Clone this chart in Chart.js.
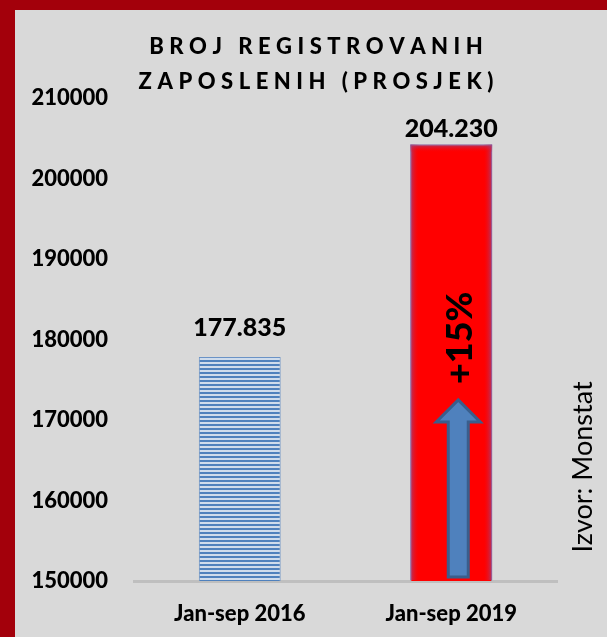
<!DOCTYPE html>
<html>
<head>
<meta charset="utf-8">
<script src="https://cdn.jsdelivr.net/npm/chart.js@4"></script>
<style>
  html, body { margin: 0; padding: 0; background: #D9D9D9; }
  canvas { display: block; }
</style>
</head>
<body>
<canvas id="grafico" width="607" height="637"></canvas>
<script>
var kategorije = ["Jan-sep 2016", "Jan-sep 2019"];
var zaposleni = [177835, 204230];
var etikete = ["177.835", "204.230"];
var naslov = ["BROJ REGISTROVANIH", "ZAPOSLENIH (PROSJEK)"];
var rast = "+15%";
var rastVrijednost = 180200; // gdje stoji natpis +15%
var strelica = [150000, 172500]; // strelica od - do
var izvor = "Izvor: Monstat";
var yMin = 150000, yMax = 210000, yKorak = 10000;

const ctx = document.getElementById("grafico").getContext("2d");

// horizontalne pruge za prvi stubac
function prugice() {
  var c = document.createElement("canvas");
  c.width = 4; c.height = 4;
  var g = c.getContext("2d");
  g.fillStyle = "#CFDCEC";
  g.fillRect(0, 0, 4, 4);
  g.fillStyle = "#4F81BD";
  g.fillRect(0, 0, 4, 2);
  return ctx.createPattern(c, "repeat");
}

function razmaknutTekst(c, tekst, cx, y, razmak) {
  var sirina = 0;
  for (var i = 0; i < tekst.length; i++) sirina += c.measureText(tekst[i]).width + razmak;
  sirina -= razmak;
  var x = cx - sirina / 2;
  c.textAlign = "left";
  for (var j = 0; j < tekst.length; j++) {
    c.fillText(tekst[j], x, y);
    x += c.measureText(tekst[j]).width + razmak;
  }
}

const dodaci = {
  id: "dodaci",
  beforeDraw(chart) {
    const c = chart.ctx;
    c.save();
    c.fillStyle = "#A3000B";
    c.fillRect(0, 0, chart.width, chart.height);
    c.fillStyle = "#D9D9D9";
    c.fillRect(15, 10, chart.width - 15, chart.height - 10);
    c.restore();
  },
  afterDatasetsDraw(chart) {
    const c = chart.ctx;
    const y = chart.scales.y;
    const stupci = chart.getDatasetMeta(0).data;
    c.save();

    // meke ivice crvenog stupca
    const b = stupci[1];
    const l = b.x - b.width / 2, r = b.x + b.width / 2;
    const dno = chart.chartArea.bottom - 1;
    const vis = dno - b.y;
    let g = c.createLinearGradient(l, 0, l + 9, 0);
    g.addColorStop(0, "rgba(140,80,150,0.75)");
    g.addColorStop(1, "rgba(255,0,0,0)");
    c.fillStyle = g;
    c.fillRect(l, b.y, 9, vis);
    g = c.createLinearGradient(r, 0, r - 9, 0);
    g.addColorStop(0, "rgba(140,80,150,0.75)");
    g.addColorStop(1, "rgba(255,0,0,0)");
    c.fillStyle = g;
    c.fillRect(r - 9, b.y, 9, vis);
    g = c.createLinearGradient(0, b.y, 0, b.y + 8);
    g.addColorStop(0, "rgba(140,80,150,0.7)");
    g.addColorStop(1, "rgba(255,0,0,0)");
    c.fillStyle = g;
    c.fillRect(l, b.y, b.width, 8);

    // strelica
    const ax = b.x + 7;
    const y0 = y.getPixelForValue(strelica[0]) - 4;
    const y1 = y.getPixelForValue(strelica[1]);
    c.beginPath();
    c.moveTo(ax - 10, y0);
    c.lineTo(ax - 10, y1 + 22);
    c.lineTo(ax - 22, y1 + 22);
    c.lineTo(ax, y1);
    c.lineTo(ax + 22, y1 + 22);
    c.lineTo(ax + 10, y1 + 22);
    c.lineTo(ax + 10, y0);
    c.closePath();
    c.fillStyle = "#4F81BD";
    c.fill();
    c.lineWidth = 3;
    c.strokeStyle = "#3A5E8C";
    c.stroke();

    // +15%
    c.save();
    c.translate(b.x + 9, y.getPixelForValue(rastVrijednost));
    c.rotate(-Math.PI / 2);
    c.font = "900 36px Lato";
    c.fillStyle = "#000";
    c.textAlign = "center";
    c.textBaseline = "middle";
    c.fillText(rast, 0, 0);
    c.restore();

    // vrijednosti iznad stubaca
    c.font = "900 25px Lato";
    c.fillStyle = "#000";
    c.textAlign = "center";
    c.textBaseline = "middle";
    stupci.forEach((s, i) => {
      const ly = Math.max(s.y - 29, chart.chartArea.top + 31);
      c.fillText(etikete[i], s.x, ly);
    });

    // naslov
    c.font = "900 22px Lato";
    c.textBaseline = "middle";
    razmaknutTekst(c, naslov[0], 316, 47, 5.5);
    razmaknutTekst(c, naslov[1], 316, 82, 5.5);

    // izvor
    c.save();
    c.translate(583, 467);
    c.rotate(-Math.PI / 2);
    c.font = "27px Lato";
    c.textAlign = "center";
    c.textBaseline = "middle";
    c.fillText(izvor, 0, 0);
    c.restore();

    c.restore();
  }
};

new Chart(ctx, {
  type: "bar",
  data: {
    labels: kategorije,
    datasets: [
      {
        label: "Zaposleni",
        data: zaposleni,
        backgroundColor: [prugice(), "#FF0000"],
        borderColor: ["#6B93C6", "#8C84B4"],
        borderWidth: 1,
        barPercentage: 0.387,
        categoryPercentage: 1,
      },
    ],
  },
  options: {
    responsive: false,
    animation: false,
    layout: { padding: { left: 29, right: 50, top: 98, bottom: 0 } },
    plugins: {
      legend: { display: false },
      tooltip: { enabled: false },
    },
    scales: {
      y: {
        min: yMin,
        max: yMax,
        ticks: {
          stepSize: yKorak,
          padding: 26,
          color: "#000",
          font: { family: "Lato", size: 22, weight: 900 },
          callback: (v) => String(v),
        },
        grid: { display: false, drawTicks: false },
        border: { display: false },
        afterFit(scale) { scale.width = 105; },
      },
      x: {
        ticks: {
          padding: 20,
          color: "#000",
          font: { family: "Lato", size: 22, weight: 900 },
        },
        grid: { display: true, color: "rgba(0,0,0,0)", drawTicks: false },
        border: { display: true, color: "#BFBFBF", width: 3 },
        afterFit(scale) { scale.height = 56; },
      },
    },
  },
  plugins: [dodaci],
});
</script>
</body>
</html>
